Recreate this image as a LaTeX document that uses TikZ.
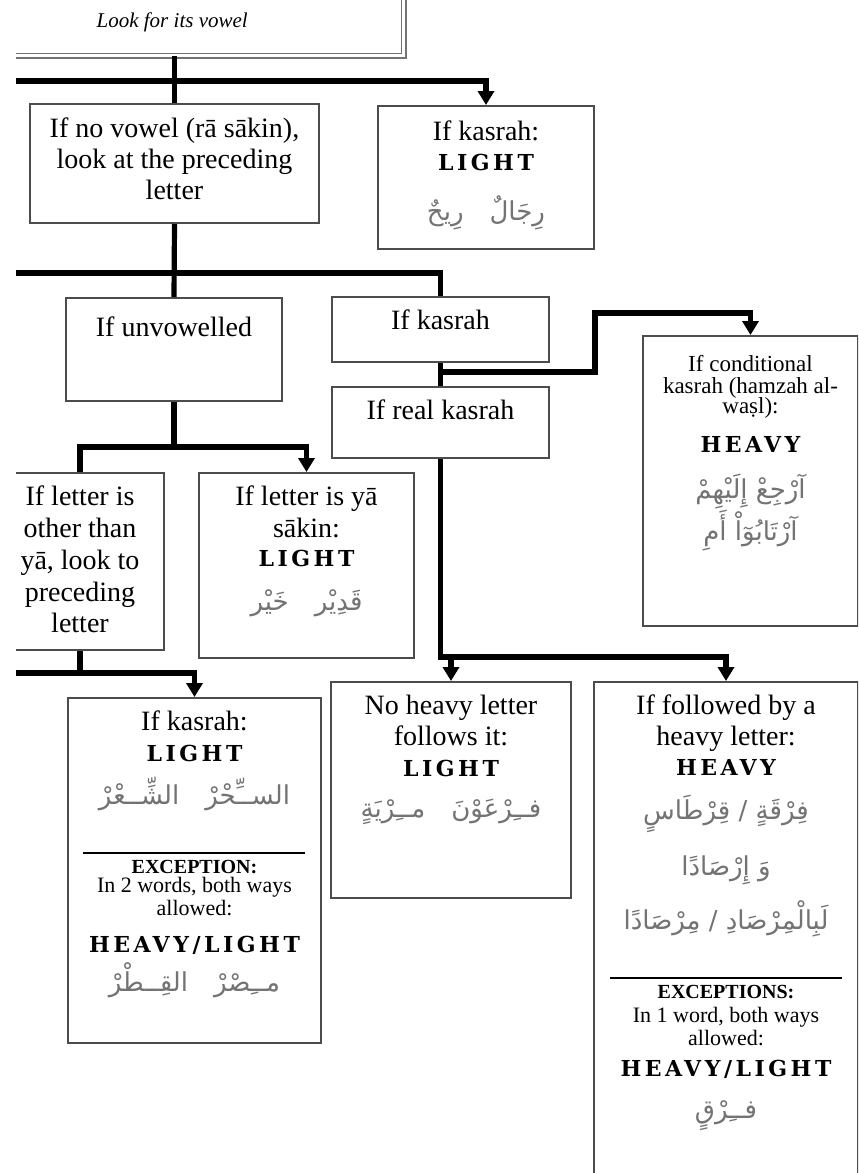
\documentclass[tikz,border=0pt]{standalone}
\usepackage{fontspec}
\usetikzlibrary{arrows.meta}
\setmainfont{Liberation Serif}
\newfontfamily\tagfont{DejaVu Serif Bold}[LetterSpace=16]
\newfontfamily\arabicfont[Script=Arabic]{DejaVu Sans}
\TeXXeTstate=1

% one picture unit is one px of the chart
\newdimen\px \px=0.5pt
% box body: width, height, then stacked rows
\newcommand{\cell}[3]{\parbox[c][#2\px][t]{#1\px}{\offinterlineskip#3}}
% a centred row whose baseline sits #1 px below the previous one
\newcommand{\row}[2]{\hbox to\hsize{\hss\rule{0pt}{#1\px}\smash{#2}\hss}}
\newcommand{\bodytext}{\fontsize{14}{15}\selectfont}
\newcommand{\notetext}{\fontsize{11}{12}\selectfont}
\newcommand{\verdict}[1]{{\fontsize{11}{12}\tagfont #1}}
\newcommand{\arab}[1]{{\fontsize{13}{15}\color{black!55}\arabicfont\beginR #1\endR}}

\tikzset{
  box/.style={draw=black!70, line width=1pt, inner sep=0pt, anchor=north west, fill=white},
  topbox/.style={box, draw=black!55, double, double distance=1.4pt, line width=0.7pt},
  link/.style={line width=2.6pt},
  flow/.style={link, -{Triangle[width=8pt,length=7pt]}},
}

\begin{document}
\begin{tikzpicture}[x=0.5pt,y=-0.5pt]
  \useasboundingbox (0,0) rectangle (858,1173);
  \clip (16,0) rectangle (858,1173);

  % first question
  \node[topbox] (vowel) at (-60,-20) {\cell{463}{75}{\row{47}{\itshape\fontsize{10.5}{12}\selectfont Look for its vowel}}};
  \node[box] (novowel) at (29,103) {\cell{289}{119}{\bodytext\row{33}{If no vowel (rā sākin),}\row{31}{look at the preceding}\row{31}{letter}}};
  \node[box] (kasrahA) at (377,105) {\cell{216}{143}{\bodytext\row{34}{If kasrah:}\row{30}{\verdict{LIGHT}}\row{50}{\arab{رِجَالٌ\quad رِيحٌ}}}};

  % preceding letter
  \node[box] (unvow) at (65,297) {\cell{216}{103}{\bodytext\row{38}{If unvowelled}}};
  \node[box] (kasrah) at (331,296) {\cell{217}{65}{\bodytext\row{32}{If kasrah}}};
  \node[box] (realk) at (331,386) {\cell{217}{71}{\bodytext\row{32}{If real kasrah}}};
  \node[box] (cond) at (642,335) {\cell{215}{290}{\fontsize{11.5}{12}\selectfont
      \row{35}{If conditional}\row{22}{kasrah (hamzah al-}\row{20}{waṣl):}
      \row{39}{\verdict{HEAVY}}\row{46}{\arab{آرْجِعْ إِلَيْهِمْ}}\row{42}{\arab{آرْتَابُوٓاْ أَمِ}}}};

  % unvowelled letter
  \node[box] (other) at (-5,472) {\cell{168}{177}{\bodytext\row{32}{If letter is}\row{32}{other than}\row{32}{yā, look to}\row{32}{preceding}\row{31}{letter}}};
  \node[box] (yasakin) at (198,472) {\cell{215}{185}{\bodytext\row{32}{If letter is yā}\row{32}{sākin:}\row{29}{\verdict{LIGHT}}\row{44}{\arab{قَدِيْر\quad خَيْر}}}};

  % bottom row
  \node[box] (kasrahB) at (67,697) {\cell{253}{345}{\bodytext
      \row{32}{If kasrah:}\row{31}{\verdict{LIGHT}}\row{43}{\arab{الســِّحْرْ\quad الشِّــعْرْ}}
      \row{50}{\rule{222\px}{1pt}}\notetext
      \row{19}{\fontsize{10}{12}\bfseries EXCEPTION:}\row{19}{In 2 words, both ways}\row{23}{allowed:}
      \row{37}{\verdict{HEAVY/LIGHT}}\row{39}{\arab{مــِصْرْ\quad القِــطْرْ}}}};
  \node[box] (noheavy) at (330,681) {\cell{240}{216}{\bodytext\row{32}{No heavy letter}\row{31}{follows it:}\row{31}{\verdict{LIGHT}}\row{41}{\arab{فــِرْعَوْنَ\quad مــِرْيَةٍ}}}};
  \node[box] (followed) at (593,681) {\cell{264}{600}{\bodytext
      \row{32}{If followed by a}\row{31}{heavy letter:}\row{30}{\verdict{HEAVY}}
      \row{44}{\arab{فِرْقَةٍ / قِرْطَاسٍ}}\row{56}{\arab{وَ إِرْصَادًا}}\row{54}{\arab{لَبِالْمِرْصَادِ / مِرْصَادًا}}
      \row{50}{\rule{232\px}{1pt}}\notetext
      \row{19}{\fontsize{10}{12}\bfseries EXCEPTIONS:}\row{24}{In 1 word, both ways}\row{23}{allowed:}
      \row{31}{\verdict{HEAVY/LIGHT}}\row{42}{\arab{فــِرْقٍ}}}};

  % rails and forks
  \coordinate (railA) at (0,81);
  \coordinate (railB) at (0,273);
  \coordinate (railE) at (0,673);
  \coordinate (forkC) at (kasrah.south |- 0,372);
  \coordinate (bendC) at (595,313);
  \coordinate (forkD) at (unvow.south |- 0,447);
  \coordinate (forkF) at (realk.south |- 0,657);

  \draw[link] (vowel.south -| novowel.north) -- (novowel.north);
  \draw[flow] (railA) -| (kasrahA.north);
  \draw[link] (novowel.south) -- (unvow.north);
  \draw[link] (railB) -| (kasrah.north);
  \draw[link] (kasrah.south) -- (realk.north);
  \draw[flow] (forkC) -| (bendC) -| (cond.north);
  \draw[link] (unvow.south) -- (forkD);
  \draw[flow] (other.north) |- (forkD) -| (yasakin.north);
  \draw[link] (other.south) -- (other.south |- railE);
  \draw[flow] (railE) -| (kasrahB.north);
  \draw[flow] (realk.south) |- (followed.north |- forkF) -- (followed.north);
  \draw[flow] (noheavy.north |- forkF) -- (noheavy.north);
\end{tikzpicture}
\end{document}
